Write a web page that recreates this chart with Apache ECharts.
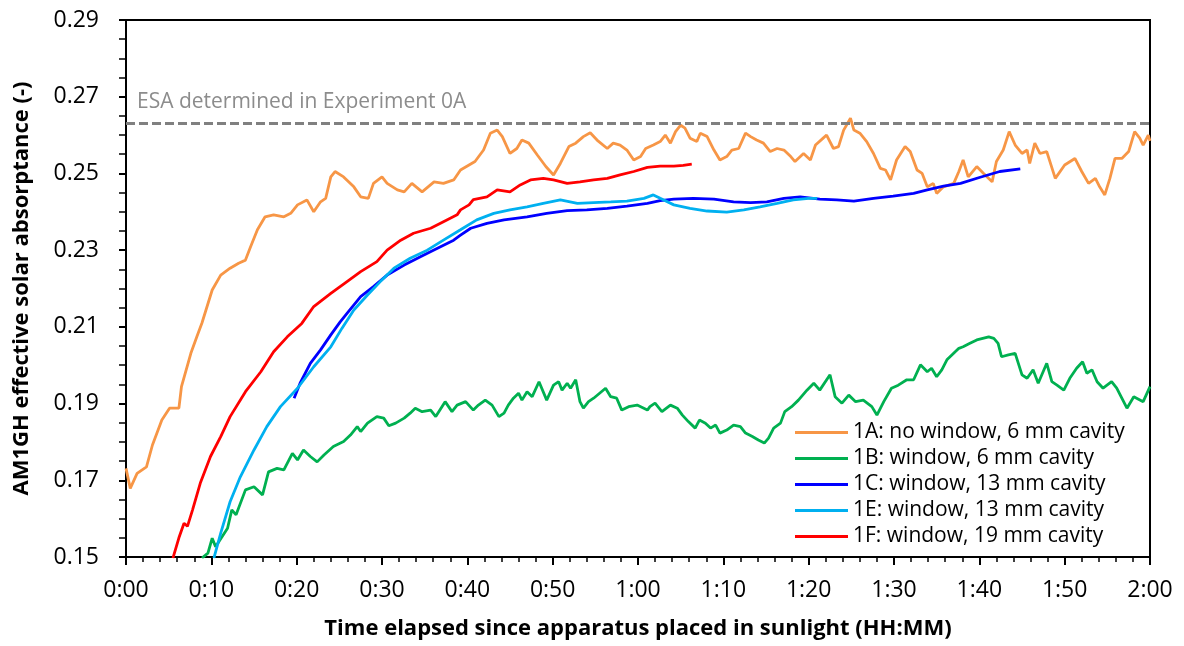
<!DOCTYPE html>
<html>
<head>
<meta charset="utf-8">
<script src="https://cdn.jsdelivr.net/npm/echarts@6/dist/echarts.min.js"></script>
<style>
  html, body { margin: 0; padding: 0; background: #ffffff; }
  #chart { width: 1184px; height: 646px; }
</style>
</head>
<body>
<div id="chart"></div>
<script>
// Elapsed time in minutes, effective solar absorptance (-)
const series1A = [
  [0,0.1731],[0.5,0.1679],[1.3,0.1718],[2.4,0.1735],[3.1,0.1792],[4.2,0.1857],[5.1,0.1888],[6.2,0.1888],
  [6.5,0.1944],[7.6,0.2031],[8.3,0.2074],[8.9,0.2110],[9.5,0.2153],[10.1,0.2196],[11.1,0.2235],[12.2,0.2253],
  [13.2,0.2266],[14.0,0.2274],[14.6,0.2309],[15.4,0.2353],[16.3,0.2387],[17.3,0.2392],[18.5,0.2387],[19.3,0.2396],
  [20.1,0.2418],[21.2,0.2431],[22.0,0.2400],[22.8,0.2426],[23.4,0.2435],[24.0,0.2491],[24.5,0.2505],[25.5,0.2491],
  [26.7,0.2465],[27.5,0.2439],[28.4,0.2435],[29.0,0.2474],[30.0,0.2491],[30.6,0.2474],[31.8,0.2457],[32.6,0.2452],
  [33.5,0.2474],[34.7,0.2452],[36.1,0.2478],[37.2,0.2474],[38.4,0.2483],[39.2,0.2509],[40.2,0.2522],[40.9,0.2531],
  [41.9,0.2561],[42.7,0.2605],[43.5,0.2613],[44.1,0.2596],[45.0,0.2552],[45.8,0.2565],[46.4,0.2587],[47.2,0.2579],
  [48.2,0.2548],[49.2,0.2518],[50.1,0.2496],[50.9,0.2526],[51.9,0.2570],[52.7,0.2579],[53.6,0.2596],[54.4,0.2606],
  [55.2,0.2587],[56.4,0.2565],[57.1,0.2579],[57.9,0.2574],[58.7,0.2561],[59.5,0.2535],[60.3,0.2544],[60.9,0.2565],
  [61.8,0.2574],[62.6,0.2583],[63.2,0.2600],[63.8,0.2579],[64.4,0.2609],[65.0,0.2626],[65.5,0.2618],[66.1,0.2592],
  [66.9,0.2583],[67.3,0.2605],[68.1,0.2596],[68.9,0.2561],[69.6,0.2535],[70.4,0.2544],[71.0,0.2561],[71.8,0.2565],
  [72.6,0.2605],[73.2,0.2596],[73.9,0.2587],[74.7,0.2579],[75.5,0.2557],[76.3,0.2565],[77.1,0.2561],[77.9,0.2544],
  [78.4,0.2531],[79.4,0.2552],[80.2,0.2535],[80.8,0.2574],[81.7,0.2592],[82.1,0.2600],[82.9,0.2565],[83.5,0.2570],
  [84.1,0.2613],[84.9,0.2644],[85.3,0.2613],[86.0,0.2605],[86.8,0.2583],[87.6,0.2552],[88.4,0.2513],[89.0,0.2509],
  [89.6,0.2483],[90.3,0.2535],[91.3,0.2570],[91.9,0.2557],[92.7,0.2509],[93.3,0.2500],[93.9,0.2465],[94.6,0.2474],
  [95.0,0.2448],[95.8,0.2465],[97.0,0.2474],[97.6,0.2505],[98.1,0.2535],[98.7,0.2491],[99.7,0.2518],[100.5,0.2500],
  [101.5,0.2478],[102.0,0.2531],[102.8,0.2561],[103.5,0.2609],[104.2,0.2574],[105.0,0.2552],[105.6,0.2561],[105.9,0.2526],
  [106.5,0.2579],[107.1,0.2552],[107.9,0.2557],[108.9,0.2487],[110.0,0.2522],[111.2,0.2539],[112.0,0.2505],[112.8,0.2474],
  [113.6,0.2487],[114.1,0.2465],[114.7,0.2444],[115.3,0.2487],[115.9,0.2539],[116.7,0.2539],[117.5,0.2557],[118.2,0.2609],
  [118.8,0.2592],[119.2,0.2574],[119.8,0.2600],[120,0.2585]
];

const series1B = [
  [8.9,0.1497],[9.6,0.1510],[10.1,0.1549],[10.5,0.1527],[11.9,0.1575],[12.4,0.1623],[12.9,0.1610],[14.0,0.1675],
  [15.0,0.1683],[16.0,0.1662],[16.7,0.1722],[17.7,0.1731],[18.5,0.1727],[19.5,0.1770],[20.1,0.1753],[20.8,0.1779],
  [21.6,0.1762],[22.4,0.1748],[23.2,0.1766],[24.3,0.1788],[25.5,0.1801],[26.3,0.1818],[27.1,0.1840],[27.5,0.1827],
  [28.3,0.1849],[29.4,0.1866],[30.2,0.1862],[30.8,0.1842],[31.6,0.1849],[32.6,0.1862],[33.3,0.1875],[33.9,0.1888],
  [34.7,0.1879],[35.7,0.1883],[36.3,0.1866],[37.4,0.1905],[38.2,0.1879],[38.8,0.1896],[39.8,0.1905],[40.7,0.1883],
  [41.3,0.1896],[42.1,0.1909],[42.9,0.1896],[43.7,0.1866],[44.3,0.1875],[44.8,0.1896],[45.4,0.1914],[46.0,0.1927],
  [46.4,0.1909],[47.0,0.1931],[47.6,0.1918],[48.4,0.1957],[49.3,0.1909],[50.1,0.1948],[50.7,0.1957],[51.1,0.1935],
  [51.7,0.1953],[52.1,0.1940],[52.7,0.1962],[53.2,0.1905],[53.6,0.1888],[54.2,0.1905],[54.8,0.1914],[56.2,0.1940],
  [56.8,0.1918],[57.5,0.1914],[58.1,0.1883],[58.9,0.1892],[59.9,0.1896],[61.1,0.1883],[61.4,0.1892],[62.0,0.1901],
  [62.8,0.1879],[63.8,0.1896],[64.6,0.1888],[65.2,0.1870],[65.9,0.1853],[66.7,0.1836],[67.2,0.1857],[67.9,0.1849],
  [68.5,0.1836],[69.1,0.1844],[69.6,0.1823],[70.4,0.1831],[71.2,0.1844],[72.0,0.1840],[72.6,0.1823],[73.4,0.1814],
  [74.1,0.1805],[74.8,0.1797],[75.3,0.1810],[75.9,0.1836],[76.7,0.1849],[77.2,0.1879],[78.0,0.1892],[78.8,0.1909],
  [79.8,0.1935],[80.6,0.1953],[81.3,0.1935],[82.5,0.1975],[83.1,0.1918],[83.9,0.1901],[84.7,0.1922],[85.5,0.1905],
  [86.4,0.1909],[87.4,0.1892],[88.0,0.1870],[88.8,0.1905],[89.7,0.1940],[90.5,0.1948],[91.5,0.1962],[92.3,0.1962],
  [93.1,0.2001],[93.9,0.1983],[94.4,0.1992],[95.0,0.1970],[95.6,0.1988],[96.2,0.2014],[97.6,0.2044],[98.1,0.2048],
  [98.9,0.2057],[99.7,0.2066],[101.1,0.2074],[101.7,0.2070],[102.2,0.2057],[102.6,0.2022],[103.4,0.2027],[104.2,0.2031],
  [105.0,0.1975],[105.6,0.1966],[106.3,0.1988],[106.9,0.1953],[107.9,0.2005],[108.5,0.1957],[109.1,0.1948],[109.9,0.1935],
  [110.6,0.1966],[111.4,0.1992],[112.1,0.2009],[112.6,0.1979],[113.2,0.1988],[113.8,0.1957],[114.5,0.1940],[115.5,0.1957],
  [116.1,0.1940],[116.7,0.1914],[117.3,0.1888],[118.1,0.1918],[119.2,0.1905],[120,0.1944]
];

const series1C = [
  [19.7,0.1914],[20.4,0.1953],[21.6,0.2005],[22.8,0.2040],[24.0,0.2079],[25.1,0.2113],[25.9,0.2135],[27.5,0.2179],
  [29.0,0.2205],[30.6,0.2235],[32.6,0.2261],[34.5,0.2283],[36.5,0.2305],[38.4,0.2326],[39.2,0.2339],[40.4,0.2357],
  [42.3,0.2370],[44.3,0.2379],[47.0,0.2387],[49.3,0.2396],[51.7,0.2403],[54.0,0.2405],[56.4,0.2409],[58.7,0.2415],
  [61.1,0.2422],[62.6,0.2429],[64.2,0.2433],[66.5,0.2435],[68.9,0.2433],[71.2,0.2426],[73.2,0.2424],[75.1,0.2426],
  [77.1,0.2435],[79.0,0.2439],[81.3,0.2433],[83.3,0.2431],[85.3,0.2428],[87.6,0.2435],[89.9,0.2441],[92.3,0.2448],
  [93.9,0.2457],[95.8,0.2467],[97.8,0.2474],[100.1,0.2490],[102.4,0.2505],[104.8,0.2512]
];

const series1E = [
  [10.3,0.1497],[11.1,0.1562],[12.2,0.1644],[13.4,0.1709],[15.0,0.1779],[16.5,0.1840],[18.1,0.1892],[20.1,0.1940],
  [22.0,0.1996],[24.0,0.2048],[25.3,0.2096],[26.7,0.2144],[28.3,0.2183],[29.8,0.2218],[31.4,0.2253],[33.3,0.2279],
  [35.3,0.2300],[37.2,0.2326],[39.2,0.2353],[41.1,0.2379],[43.1,0.2396],[45.0,0.2405],[47.0,0.2413],[48.9,0.2422],
  [50.9,0.2431],[52.9,0.2422],[54.8,0.2424],[56.8,0.2426],[58.7,0.2428],[60.7,0.2435],[61.8,0.2444],[62.6,0.2435],
  [64.2,0.2418],[66.1,0.2409],[68.1,0.2402],[70.4,0.2399],[72.4,0.2405],[74.3,0.2413],[76.3,0.2422],[78.2,0.2431],
  [80.0,0.2435],[81.0,0.2435]
];

const series1F = [
  [5.5,0.1497],[6.2,0.1550],[6.8,0.1588],[7.2,0.1580],[7.8,0.1623],[8.7,0.1692],[9.9,0.1762],[11.1,0.1814],
  [12.2,0.1866],[14.0,0.1931],[15.8,0.1983],[17.3,0.2035],[18.9,0.2074],[20.6,0.2109],[22.0,0.2153],[24.0,0.2187],
  [25.9,0.2218],[27.5,0.2244],[29.4,0.2270],[30.6,0.2300],[32.2,0.2326],[33.7,0.2344],[35.7,0.2357],[37.2,0.2374],
  [38.8,0.2392],[39.2,0.2405],[40.2,0.2418],[40.7,0.2432],[42.3,0.2439],[43.5,0.2457],[45.0,0.2452],[46.2,0.2470],
  [47.4,0.2483],[48.9,0.2487],[50.1,0.2483],[51.7,0.2474],[53.2,0.2478],[54.8,0.2483],[56.4,0.2487],[57.9,0.2496],
  [59.5,0.2505],[61.1,0.2516],[62.6,0.2519],[64.2,0.2519],[65.3,0.2521],[66.3,0.2524]
];

const seriesNames = [
  '1A: no window, 6 mm cavity',
  '1B: window, 6 mm cavity',
  '1C: window, 13 mm cavity',
  '1E: window, 13 mm cavity',
  '1F: window, 19 mm cavity'
];
const seriesData = [series1A, series1B, series1C, series1E, series1F];
const seriesColors = ['#F79646', '#00B050', '#0000FF', '#00B0F0', '#FF0000'];

// Reference absorptance from Experiment 0A
const esaValue = 0.2631;
const esaText = 'ESA determined in Experiment 0A';

const FONT = '"Open Sans", "Noto Sans", sans-serif';

function fmtTime(m) {
  const h = Math.floor(m / 60);
  const mm = Math.round(m - h * 60);
  return h + ':' + String(mm).padStart(2, '0');
}

const chart = echarts.init(document.getElementById('chart'), null, { renderer: 'canvas' });

const series = seriesData.map((d, i) => {
  const s = {
    name: seriesNames[i],
    type: 'line',
    data: d,
    symbol: 'none',
    smooth: false,
    clip: true,
    lineStyle: { color: seriesColors[i], width: 2.8 },
    itemStyle: { color: seriesColors[i] },
    z: 2 + i
  };
  if (i === 0) {
    s.markLine = {
      silent: true,
      precision: 4,
      symbol: ['none', 'none'],
      animation: false,
      lineStyle: { color: '#808080', type: [9, 4], width: 3 },
      label: {
        show: true,
        position: 'insideStartTop',
        formatter: esaText,
        color: '#8c8c8c',
        fontSize: 21,
        fontFamily: FONT,
        distance: [11, 11]
      },
      data: [{ yAxis: esaValue }]
    };
  }
  return s;
});

chart.setOption({
  animation: false,
  backgroundColor: '#ffffff',
  grid: {
    left: 126, right: 34, top: 20, bottom: 89,
    show: true, borderColor: '#000', borderWidth: 2
  },
  legend: {
    orient: 'vertical',
    left: 795,
    top: 422,
    padding: 0,
    icon: 'rect',
    itemWidth: 53,
    itemHeight: 3,
    itemGap: 5,
    data: seriesNames,
    textStyle: { fontSize: 21, fontFamily: FONT, color: '#000', lineHeight: 20.6 }
  },
  xAxis: {
    type: 'value',
    min: 0, max: 120, interval: 10,
    name: 'Time elapsed since apparatus placed in sunlight (HH:MM)',
    nameLocation: 'middle',
    nameGap: 61,
    nameTextStyle: { fontSize: 22, fontWeight: 'bold', fontFamily: FONT, color: '#000' },
    axisLine: { show: true, onZero: false, lineStyle: { color: '#000', width: 2 } },
    axisTick: { show: true, inside: false, length: 8, lineStyle: { color: '#000', width: 2 } },
    minorTick: { show: true, splitNumber: 5, length: 5, lineStyle: { color: '#000', width: 1.5 } },
    splitLine: { show: false },
    minorSplitLine: { show: false },
    axisLabel: { fontSize: 23, fontFamily: FONT, color: '#000', margin: 22, formatter: fmtTime }
  },
  yAxis: {
    type: 'value',
    min: 0.15, max: 0.29, interval: 0.02,
    name: 'AM1GH effective solar absorptance (-)',
    nameLocation: 'middle',
    nameGap: 93,
    nameTextStyle: { fontSize: 22, fontWeight: 'bold', fontFamily: FONT, color: '#000' },
    axisLine: { show: true, onZero: false, lineStyle: { color: '#000', width: 2 } },
    axisTick: { show: true, inside: false, length: 7, lineStyle: { color: '#000', width: 2 } },
    minorTick: { show: true, splitNumber: 4, length: 7, lineStyle: { color: '#000', width: 1.5 } },
    splitLine: { show: false },
    minorSplitLine: { show: false },
    axisLabel: { fontSize: 23, fontFamily: FONT, color: '#000', margin: 27, formatter: v => v.toFixed(2) }
  },
  series: series
});
</script>
</body>
</html>
